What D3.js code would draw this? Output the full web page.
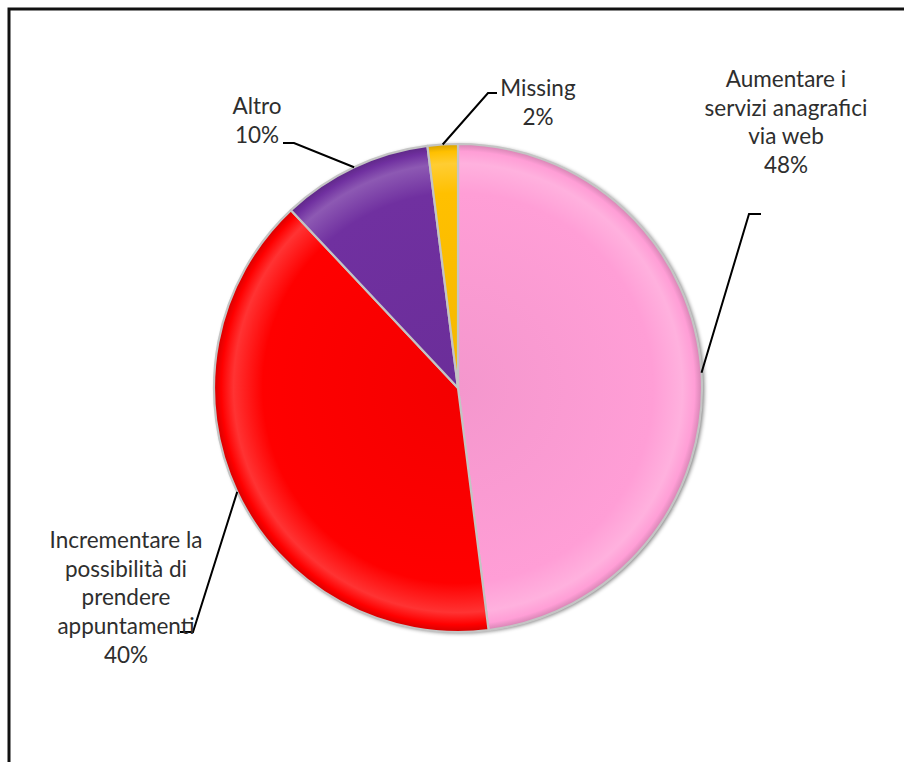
<!DOCTYPE html>
<html>
<head>
<meta charset="utf-8">
<script src="https://cdn.jsdelivr.net/npm/d3@7"></script>
<style>
  body { margin: 0; background: #fff; }
  text { font-family: Lato, "Open Sans", sans-serif; fill: #2e2e2e; }
</style>
</head>
<body>
<svg id="chart" width="904" height="762"></svg>
<script>
// Survey answers and their shares (%)
const categories = [
  "Aumentare i servizi anagrafici via web",
  "Incrementare la possibilità di prendere appuntamenti",
  "Altro",
  "Missing"
];
const labelLines = [
  ["Aumentare i", "servizi anagrafici", "via web"],
  ["Incrementare la", "possibilità di", "prendere", "appuntamenti"],
  ["Altro"],
  ["Missing"]
];
const values = [48, 40, 10, 2];
const colors = ["#FF9ED6", "#FF0000", "#7030A0", "#FFC000"];

// Label placement: text centre x, first line centre y, leader knee points
const labelLayout = [
  { x: 786, y: 79, knee: [[761, 214], [749, 214]] },
  { x: 126, y: 540, knee: [[180, 632], [193, 632]] },
  { x: 257, y: 106, knee: [[283, 143], [294, 143]] },
  { x: 538, y: 88, knee: [[497, 93], [488, 93]] }
];

const svg = d3.select("#chart");
const cx = 458, cy = 388, R = 244;
const lineH = 28.8;

// Frame
svg.append("path")
  .attr("d", "M9,762 V9 H904")
  .attr("fill", "none")
  .attr("stroke", "#111")
  .attr("stroke-width", 3);

const defs = svg.append("defs");

// Soft shadow around the disc
const shadow = defs.append("filter").attr("id", "shadow")
  .attr("x", "-10%").attr("y", "-10%").attr("width", "120%").attr("height", "120%");
shadow.append("feGaussianBlur").attr("in", "SourceAlpha").attr("stdDeviation", 2).attr("result", "b");
shadow.append("feOffset").attr("in", "b").attr("dx", 1.5).attr("dy", 1).attr("result", "o");
shadow.append("feComponentTransfer").attr("in", "o").attr("result", "s")
  .append("feFuncA").attr("type", "linear").attr("slope", 0.55);
const merge = shadow.append("feMerge");
merge.append("feMergeNode").attr("in", "s");
merge.append("feMergeNode").attr("in", "SourceGraphic");

// Bevel-like radial shading for each slice (centred on the pie's own origin)
colors.forEach((c, i) => {
  const base = d3.color(c);
  const g = defs.append("radialGradient")
    .attr("id", "grad" + i)
    .attr("gradientUnits", "userSpaceOnUse")
    .attr("cx", 0).attr("cy", 0).attr("r", R);
  g.append("stop").attr("offset", "0%").attr("stop-color", base.darker(0.12));
  g.append("stop").attr("offset", "80%").attr("stop-color", base);
  g.append("stop").attr("offset", "92%").attr("stop-color", d3.interpolateRgb(base, "#fff")(0.2));
  g.append("stop").attr("offset", "97%").attr("stop-color", base);
  g.append("stop").attr("offset", "100%").attr("stop-color", base.darker(0.5));
});

const pie = d3.pie().sort(null).value(d => d)(values);
const arc = d3.arc().innerRadius(0).outerRadius(R);

const g = svg.append("g").attr("transform", `translate(${cx},${cy})`);

g.append("circle").attr("r", R)
  .attr("fill", "#ddd")
  .attr("filter", "url(#shadow)");

g.selectAll("path.slice")
  .data(pie)
  .join("path")
  .attr("class", "slice")
  .attr("d", arc)
  .attr("fill", (d, i) => `url(#grad${i})`)
  .attr("stroke", "#c4c4c4")
  .attr("stroke-width", 2.2)
  .attr("stroke-linejoin", "round");

// Leader lines from the slice rim to the labels
pie.forEach((d, i) => {
  const a = (d.startAngle + d.endAngle) / 2;
  const p = [cx + R * Math.sin(a), cy - R * Math.cos(a)];
  const L = labelLayout[i];
  svg.append("path")
    .attr("d", d3.line()([L.knee[0], L.knee[1], p]))
    .attr("fill", "none")
    .attr("stroke", "#000")
    .attr("stroke-width", 2);
});

// Labels: category lines plus percentage
pie.forEach((d, i) => {
  const L = labelLayout[i];
  const lines = labelLines[i].concat([values[i] + "%"]);
  const t = svg.append("text")
    .attr("text-anchor", "middle")
    .attr("font-size", 22.5);
  lines.forEach((s, k) => {
    t.append("tspan")
      .attr("x", L.x)
      .attr("y", L.y + k * lineH)
      .attr("dy", "0.35em")
      .text(s);
  });
});
</script>
</body>
</html>
